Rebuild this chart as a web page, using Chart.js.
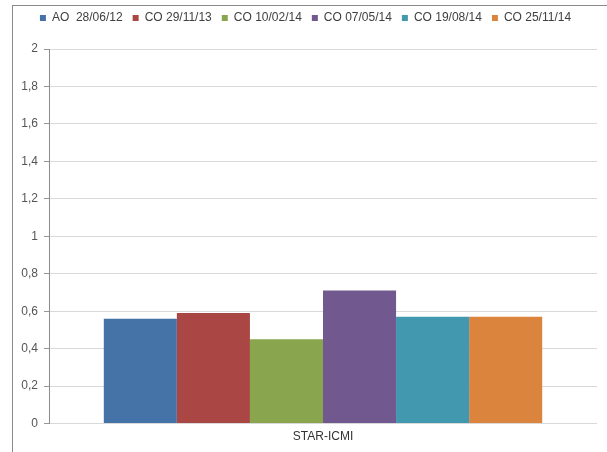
<!DOCTYPE html>
<html>
<head>
<meta charset="utf-8">
<script src="https://cdn.jsdelivr.net/npm/chart.js@4/dist/chart.umd.min.js"></script>
<style>
  html, body { margin: 0; padding: 0; background: #fff; }
  #frame {
    position: absolute; left: 12px; top: 5px;
    width: 595px; height: 447px;
    border-top: 1px solid #8a8a8a; border-left: 1px solid #8a8a8a;
    box-sizing: border-box;
  }
  #wrap { position: absolute; left: 1px; top: 1px; width: 594px; height: 446px; }
</style>
</head>
<body>
<div id="frame"><div id="wrap"><canvas id="chart"></canvas></div></div>
<script>
const categories = ['STAR-ICMI'];
const seriesNames = ['AO  28/06/12', 'CO 29/11/13', 'CO 10/02/14', 'CO 07/05/14', 'CO 19/08/14', 'CO 25/11/14'];
const seriesValues = [[0.56], [0.59], [0.45], [0.71], [0.57], [0.57]];
const seriesColors = ['#4572A7', '#AA4643', '#89A54E', '#71588F', '#4198AF', '#DB843D'];
const yTicks = [0, 0.2, 0.4, 0.6, 0.8, 1, 1.2, 1.4, 1.6, 1.8, 2];

const datasets = seriesNames.map((name, i) => ({
    label: name,
    data: seriesValues[i],
    backgroundColor: seriesColors[i],
    borderWidth: 0,
    barPercentage: 1,
    categoryPercentage: 0.8
}));

// push plot area down below the legend
const legendGap = {
    id: 'legendGap',
    beforeInit(chart) {
        const fit = chart.legend.fit;
        chart.legend.fit = function () {
            fit.bind(chart.legend)();
            this.height += 15;
        };
    }
};

const ctx = document.getElementById('chart');
new Chart(ctx, {
    type: 'bar',
    data: { labels: categories, datasets: datasets },
    plugins: [legendGap],
    options: {
        responsive: true,
        maintainAspectRatio: false,
        animation: false,
        layout: { padding: { left: 0, right: 11, top: -5, bottom: 3 } },
        plugins: {
            tooltip: { enabled: false },
            legend: {
                position: 'top',
                labels: {
                    boxWidth: 6,
                    boxHeight: 6,
                    padding: 10,
                    color: '#404040',
                    font: { family: 'Liberation Sans', size: 12 }
                }
            }
        },
        scales: {
            x: {
                grid: { display: false, drawTicks: false },
                border: { display: false },
                ticks: {
                    color: '#333',
                    padding: 6,
                    font: { family: 'Liberation Sans', size: 12 }
                }
            },
            y: {
                min: 0,
                max: 2,
                afterBuildTicks: (scale) => { scale.ticks = yTicks.map(v => ({ value: v })); },
                afterFit: (scale) => { scale.width = 35; },
                grid: { color: '#d9d9d9', tickLength: 5, tickColor: '#999' },
                border: { display: true, color: '#8c8c8c' },
                ticks: {
                    color: '#555',
                    padding: 6,
                    font: { family: 'Liberation Sans', size: 12 },
                    callback: (v) => String(Math.round(v * 10) / 10).replace('.', ',')
                }
            }
        }
    }
});
</script>
</body>
</html>
